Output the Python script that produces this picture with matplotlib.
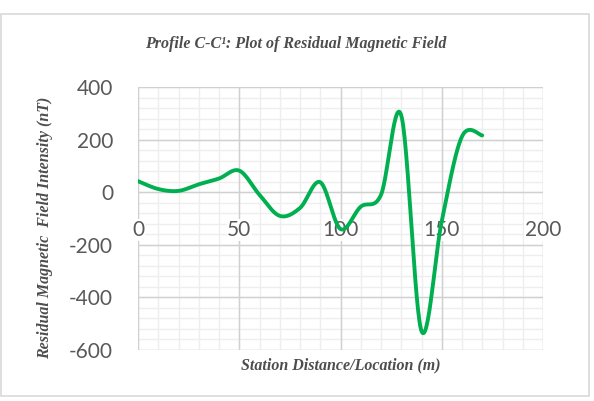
import numpy as np
import matplotlib
matplotlib.use("Agg")
import matplotlib.pyplot as plt
from matplotlib.patches import Rectangle

plt.rcParams["axes.unicode_minus"] = False

# Data
station = [0, 10, 20, 30, 40, 50, 60, 70, 80, 90, 100, 110, 120, 130, 140, 150, 160, 170]
residual = [42, 12, 5, 30, 52, 82, -10, -90, -60, 38, -140, -55, -10, 292, -528, -110, 212, 216]
x_ticks = [0, 50, 100, 150, 200]
y_ticks = [-600, -400, -200, 0, 200, 400]

title = "Profile C-C\u00b9: Plot of Residual Magnetic Field"
xlabel = "Station Distance/Location (m)"
ylabel = "Residual Magnetic  Field Intensity (nT)"


def excel_smooth(x, y, n=30):
    x = np.asarray(x, float)
    y = np.asarray(y, float)
    P = np.column_stack([x, y])
    Pe = np.vstack([P[0], P, P[-1]])
    out = []
    t = np.linspace(0, 1, n)[:, None]
    for i in range(len(P) - 1):
        p0, p1, p2, p3 = Pe[i], Pe[i + 1], Pe[i + 2], Pe[i + 3]
        c1 = p1 + (p2 - p0) / 6.0
        c2 = p2 - (p3 - p1) / 6.0
        seg = ((1 - t) ** 3) * p1 + 3 * ((1 - t) ** 2) * t * c1 + 3 * (1 - t) * t ** 2 * c2 + t ** 3 * p2
        out.append(seg if i == 0 else seg[1:])
    S = np.vstack(out)
    return S[:, 0], S[:, 1]


fig = plt.figure(figsize=(5.94, 4.01), dpi=100)
ax = fig.add_axes([138 / 594, 1 - 350 / 401, (543 - 138) / 594, (350 - 87) / 401])

xmin, xmax, ymin, ymax = 0, 200, -600, 400
ax.set_xlim(xmin, xmax)
ax.set_ylim(ymin, ymax)

# gridlines (minor then major), below the axis labels
minor_x = np.arange(xmin, xmax + 1, 10)
minor_y = np.arange(ymin, ymax + 1, 40)
ax.vlines(minor_x, ymin, ymax, color="#eeeeee", linewidth=1.0, zorder=0.2)
ax.hlines(minor_y, xmin, xmax, color="#eeeeee", linewidth=1.0, zorder=0.2)
ax.vlines(x_ticks, ymin, ymax, color="#d0d0d0", linewidth=1.0, zorder=0.3)
ax.hlines(y_ticks, xmin, xmax, color="#d0d0d0", linewidth=1.0, zorder=0.3)

sx, sy = excel_smooth(station, residual)
ax.plot(sx, sy, color="#00B050", linewidth=2.8, solid_capstyle="round", zorder=3)

ax.set_xticks(x_ticks)
ax.set_yticks(y_ticks)
ax.set_axisbelow(False)
for s in ax.spines.values():
    s.set_visible(False)
ax.spines["bottom"].set_position(("data", 0))
ax.tick_params(which="both", length=0)
ax.tick_params(axis="x", pad=20, labelsize=15, labelcolor="#595959")
ax.tick_params(axis="y", pad=18, labelsize=15, labelcolor="#595959")

tcol = "#4d4d4d"
fig.text(296 / 594, 1 - 44 / 401, title, ha="center", va="center",
         fontfamily="Liberation Serif", fontweight="bold", fontstyle="italic",
         fontsize=11.5, color=tcol)
fig.text(341 / 594, 1 - 365 / 401, xlabel, ha="center", va="center",
         fontfamily="Liberation Serif", fontweight="bold", fontstyle="italic",
         fontsize=11.5, color=tcol)
fig.text(45 / 594, 1 - 228 / 401, ylabel, ha="center", va="center", rotation=90,
         fontfamily="Liberation Serif", fontweight="bold", fontstyle="italic",
         fontsize=11.5, color=tcol)

fig.patches.append(Rectangle((1 / 594, 1 - 396 / 401), 588 / 594, 382 / 401,
                             transform=fig.transFigure, fill=False,
                             edgecolor="#d9d9d9", linewidth=1.2))

fig.canvas.draw()
for lab in ax.get_xticklabels() + ax.get_yticklabels():
    lab.set_fontfamily("Lato")
for lab in ax.get_xticklabels():
    lab.set_bbox(dict(facecolor="white", edgecolor="none", pad=0.5))

fig.savefig("out.png", dpi=100, facecolor="white")
